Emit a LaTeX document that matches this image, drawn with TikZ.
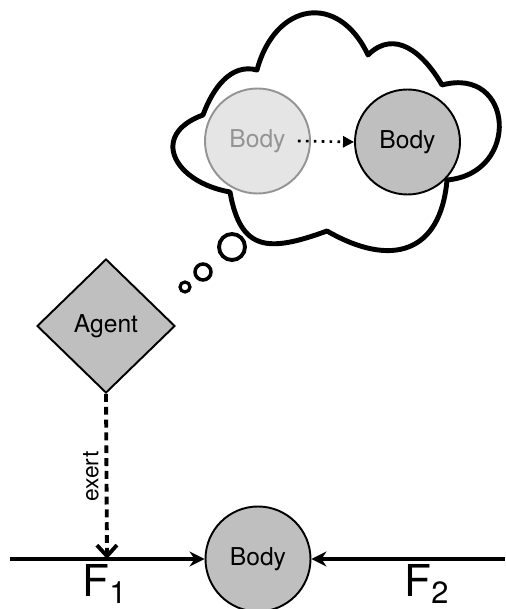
\documentclass[tikz,border=0pt]{standalone}
\usepackage{fontspec}
\setmainfont{TeX Gyre Heros}
\usepackage{tikz}
\usetikzlibrary{shapes.geometric,arrows.meta}

\definecolor{bodygray}{gray}{0.75}
\definecolor{ghostfill}{gray}{0.9}
\definecolor{ghostline}{gray}{0.58}

\begin{document}
\begin{tikzpicture}[
  body/.style={circle, draw, line width=1.1pt, fill=bodygray, minimum size=2.1cm, inner sep=0pt, font=\fontsize{14}{16}\selectfont},
  ghost/.style={body, draw=ghostline, fill=ghostfill, text=ghostline},
  agent/.style={diamond, draw, line width=1.1pt, fill=bodygray, minimum width=2.76cm, minimum height=2.68cm, inner sep=0pt, font=\fontsize{14}{16}\selectfont},
  bubble/.style={circle, draw, fill=white, inner sep=0pt},
  force/.style={-{Stealth[length=0.3cm, width=0.3cm, inset=0.1cm]}, line width=1.9pt},
  exertline/.style={-{Straight Barb[length=0.22cm, width=0.4cm]}, line width=2.2pt, dash pattern=on 4.5pt off 2.8pt},
  dreamline/.style={-{Triangle[length=0.22cm, width=0.22cm]}, line width=1.5pt, dash pattern=on 1.5pt off 3pt},
  forcetext/.style={font=\fontsize{25}{28}\selectfont}
]
\useasboundingbox (0,0) rectangle (10.1,12.18);

% thought cloud
\draw[line width=2.8pt, fill=white, line join=round]
  (4.06,9.88) to[out=70, in=165, looseness=1] (5.14,10.78)
  to[out=75, in=115, looseness=1.6] (7.36,11.08)
  to[out=45, in=120, looseness=1.2] (8.84,10.48)
  to[out=15, in=5, looseness=2] (8.94,8.58)
  to[out=-95, in=-30, looseness=1.45] (6.54,7.56)
  to[out=-160, in=-80, looseness=1.5] (4.60,8.34)
  to[out=170, in=200, looseness=1.8] (4.06,9.88) -- cycle;

\node[ghost] (ghostbody) at (5.15,9.36) {Body};
\node[body] (dreambody) at (8.15,9.34) {Body};
\draw[dreamline] ([xshift=-0.26cm]ghostbody.east) -- (dreambody.west);

% bubbles
\node[bubble, line width=2.2pt, minimum size=0.52cm] (bubbleA) at (4.64,7.24) {};
\node[bubble, line width=2pt, minimum size=0.32cm] (bubbleB) at (4.06,6.74) {};
\node[bubble, line width=1.8pt, minimum size=0.2cm] (bubbleC) at (3.70,6.44) {};

\node[agent] (agent) at (2.12,5.66) {Agent};
\node[body] (body) at (5.16,1.0) {Body};

\coordinate (leftend) at (0.2,1.0);
\coordinate (rightend) at (10.1,1.0);
\coordinate (hit) at (2.14,1.0);

\draw[force] (leftend) -- (body.west);
\draw[force] (rightend) -- (body.east);
\draw[exertline] (agent.south) -- node[rotate=90, anchor=south, font=\fontsize{13}{15}\selectfont] {exert} (hit);

\node[forcetext] (fone) at (2.1,0.5) {F\textsubscript{1}};
\node[forcetext] (ftwo) at (8.54,0.5) {F\textsubscript{2}};
\end{tikzpicture}
\end{document}
